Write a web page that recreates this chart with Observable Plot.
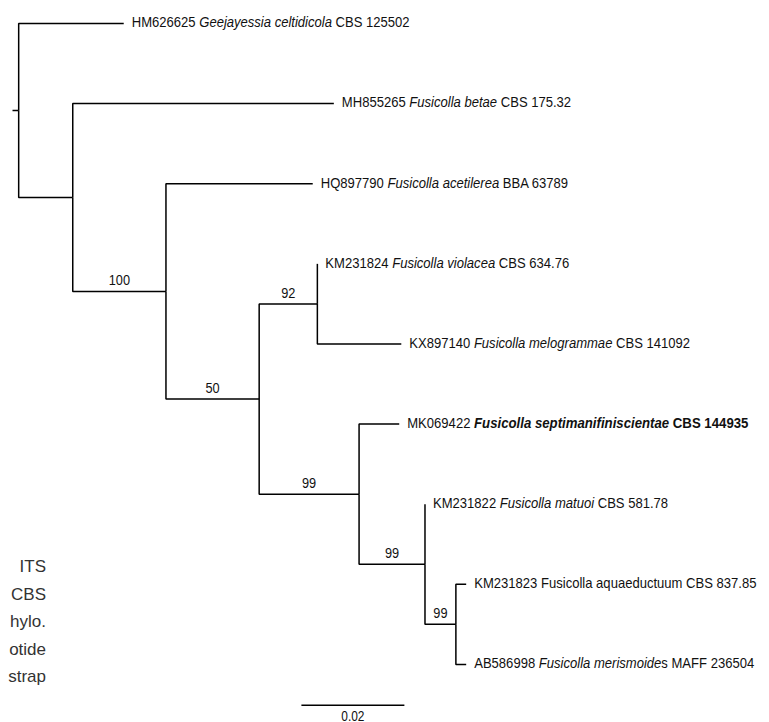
<!DOCTYPE html>
<html>
<head>
<meta charset="utf-8">
<script src="https://cdn.jsdelivr.net/npm/d3@7"></script>
<script src="https://cdn.jsdelivr.net/npm/@observablehq/plot@0.6"></script>
<style>
  html, body { margin: 0; padding: 0; background: #fff; }
  #wrap { position: relative; width: 769px; height: 722px; overflow: hidden; }
  #side { position: absolute; left: -200px; width: 246px; top: 553px; text-align: right;
          font-family: "Liberation Sans", Arial, sans-serif; font-size: 17px; line-height: 27.5px; color: #333; }
  svg text { font-family: "Liberation Sans", Arial, sans-serif; }
</style>
</head>
<body>
<div id="wrap">
  <div id="side">ITS<br>CBS<br>hylo.<br>otide<br>strap</div>
</div>
<script>
// ---- tree data ----
const nodeIds   = ["root", "HM626625", "A", "MH855265", "B", "HQ897790", "C", "D", "KM231824", "KX897140",
                   "E", "MK069422", "F", "KM231822", "G", "KM231823", "AB586998"];
const parents   = [null, "root", "root", "A", "A", "B", "B", "C", "D", "D",
                   "C", "E", "E", "F", "F", "G", "G"];
const branchLengths = [0, 0.0204, 0.0105, 0.0507, 0.0181, 0.0285, 0.0181, 0.0113, 0.0, 0.0163,
                   0.0194, 0.0078, 0.0128, 0.0, 0.0060, 0.0020, 0.0020];
const bootstrap = [null, null, null, null, 100, null, 50, 92, null, null,
                   99, null, 99, null, 99, null, null];
const rootStub = 0.0012;

// ---- leaf labels (in drawing order, top to bottom) ----
const leafIds   = ["HM626625", "MH855265", "HQ897790", "KM231824", "KX897140", "MK069422", "KM231822", "KM231823", "AB586998"];
const speciesItalic = ["Geejayessia celtidicola", "Fusicolla betae", "Fusicolla acetilerea", "Fusicolla violacea",
                       "Fusicolla melogrammae", "Fusicolla septimanifiniscientae", "Fusicolla matuoi", "", "Fusicolla merismoide"];
const speciesUpright = ["", "", "", "", "", "", "", "Fusicolla aquaeductuum", "s"];
const strains   = ["CBS 125502", "CBS 175.32", "BBA 63789", "CBS 634.76", "CBS 141092", "CBS 144935", "CBS 581.78", "CBS 837.85", "MAFF 236504"];
const boldLeaves = ["MK069422"];

// ---- scale bar ----
const scaleBarStart = 0.0561;
const scaleBarLength = 0.02;
const scaleBarLabel = "0.02";

// ---- layout (x = cumulative branch length, y = leaf order) ----
const nodes = new Map(nodeIds.map((id, i) => [id, {id, parent: parents[i], len: branchLengths[i], bs: bootstrap[i], children: []}]));
for (const n of nodes.values()) if (n.parent) nodes.get(n.parent).children.push(n);
function setX(n, x) { n.x = x; n.children.forEach(c => setX(c, x + c.len)); }
setX(nodes.get("root"), rootStub);
leafIds.forEach((id, i) => { nodes.get(id).y = i; });
function setY(n) {
  if (n.children.length) { n.children.forEach(setY); n.y = (n.children[0].y + n.children[n.children.length - 1].y) / 2; }
}
setY(nodes.get("root"));
const root = nodes.get("root");
const edges = [...nodes.values()].filter(n => n.parent).map(n => {
  const p = nodes.get(n.parent);
  return {x1: p.x, y1: p.y, x2: n.x, y2: n.y};
});
const stub = [{x1: 0, x2: root.x, y: root.y}];
const supports = [...nodes.values()].filter(n => n.bs != null).map(n => ({x: (nodes.get(n.parent).x + n.x) / 2, y: n.y, bs: String(n.bs)}));
const leaves = leafIds.map((id, i) => ({x: nodes.get(id).x, y: nodes.get(id).y, i,
  label: id + " " + (speciesItalic[i] + speciesUpright[i]) + " " + strains[i]}));
const scaleY = leafIds.length - 1 + 0.51;
const scaleBar = [{x1: scaleBarStart, x2: scaleBarStart + scaleBarLength, xm: scaleBarStart + scaleBarLength / 2, y: scaleY, label: scaleBarLabel}];

const fs = 15;
const chart = Plot.plot({
  width: 769,
  height: 722,
  marginLeft: 12,
  marginRight: 0,
  marginTop: 23,
  marginBottom: 0,
  x: {domain: [0, 0.147], axis: null},
  y: {domain: [0, 8.725], axis: null, reverse: true},
  style: {background: "#fff"},
  marks: [
    Plot.link(edges, {x1: "x1", y1: "y1", x2: "x2", y2: "y2", curve: "step-before", stroke: "#000", strokeWidth: 1.5}),
    Plot.link(stub, {x1: "x1", x2: "x2", y1: "y", y2: "y", stroke: "#000", strokeWidth: 1.5}),
    Plot.text(supports, {x: "x", y: "y", text: "bs", dy: -11, textAnchor: "middle", fontSize: fs, fill: "#111"}),
    Plot.text(leaves, {x: "x", y: "y", text: "label", dx: 8, dy: -1, textAnchor: "start", fontSize: fs, fill: "#111"}),
    Plot.link(scaleBar, {x1: "x1", x2: "x2", y1: "y", y2: "y", stroke: "#000", strokeWidth: 1.5}),
    Plot.text(scaleBar, {x: "xm", y: "y", text: "label", dy: 11, textAnchor: "middle", fontSize: fs - 1, fill: "#111"})
  ]
});
document.getElementById("wrap").prepend(chart);

// narrow typeface emulation: condense glyphs horizontally
const narrowRegular = 0.87, narrowBold = 0.88;
function condense(el, f) {
  const w = el.getComputedTextLength();
  if (w > 0) {
    el.setAttribute("textLength", (w * f).toFixed(1));
    el.setAttribute("lengthAdjust", "spacingAndGlyphs");
  }
}

// split leaf labels into styled runs
const labelSet = new Map(leaves.map(l => [l.label, l.i]));
chart.querySelectorAll("text").forEach(t => {
  const i = labelSet.get(t.textContent);
  if (i === undefined) { condense(t, 0.85); return; }
  const bold = boldLeaves.includes(leafIds[i]);
  const runs = [{s: leafIds[i] + " "}];
  if (speciesItalic[i]) runs.push({s: speciesItalic[i], it: true, b: bold});
  if (speciesUpright[i]) runs.push({s: speciesUpright[i], b: bold});
  runs.push({s: " " + strains[i], b: bold});
  t.textContent = "";
  const spans = runs.map(r => {
    const ts = document.createElementNS("http://www.w3.org/2000/svg", "tspan");
    ts.textContent = r.s;
    if (r.it) ts.setAttribute("font-style", "italic");
    if (r.b) ts.setAttribute("font-weight", "bold");
    t.appendChild(ts);
    return [ts, r.b ? narrowBold : narrowRegular];
  });
  spans.forEach(([ts, f]) => condense(ts, f));
});
</script>
</body>
</html>
